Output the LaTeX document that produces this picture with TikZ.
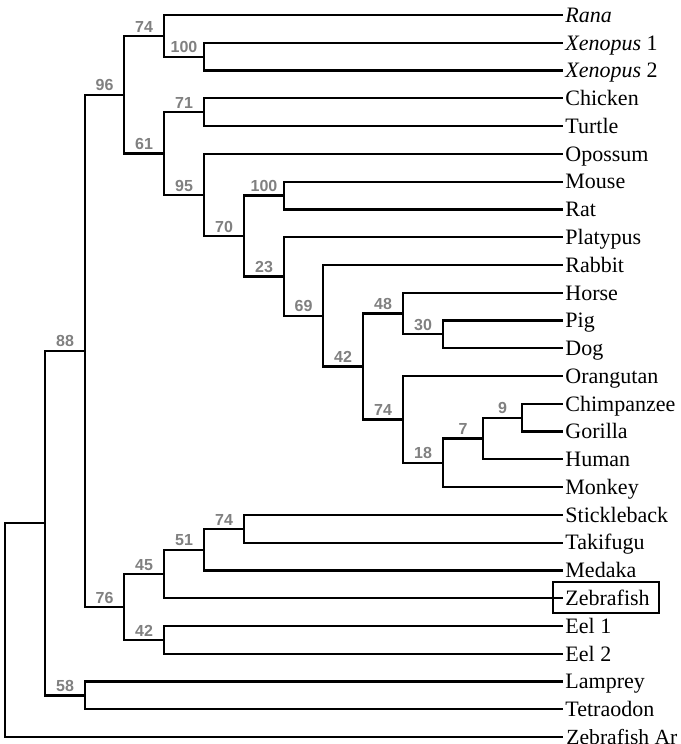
\documentclass[tikz,border=0pt]{standalone}
\usepackage{fontspec}
\setmainfont{Liberation Serif}
\newfontfamily\bsfont{Liberation Sans}
\usetikzlibrary{calc}
\tikzset{
  br/.style={line width=1.1pt},                              % tree branch
  leaf/.style={anchor=west,inner sep=1pt,text height=7.3pt,text depth=0pt,font=\fontsize{11}{13}\selectfont},
  bs/.style={pos=0.75,above,inner sep=1.3pt,text=gray,font=\bsfont\bfseries\fontsize{8}{9}\selectfont}, % bootstrap value
  hl/.style={draw=black,line width=1.1pt},
}
\begin{document}
\begin{tikzpicture}[x=0.5pt,y=-13.885pt]
  \useasboundingbox (0,-0.54) rectangle (680,26.25);
  % taxa
  \foreach \n/\t [count=\i from 0] in {rana/\textit{Rana},xenA/\textit{Xenopus} 1,xenB/\textit{Xenopus} 2,
    chicken/Chicken,turtle/Turtle,opossum/Opossum,mouse/Mouse,rat/Rat,platypus/Platypus,rabbit/Rabbit,
    horse/Horse,pig/Pig,dog/Dog,orang/Orangutan,chimp/Chimpanzee,gorilla/Gorilla,human/Human,monkey/Monkey,
    stickle/Stickleback,fugu/Takifugu,medaka/Medaka,zf/Zebrafish,eelA/Eel 1,eelB/Eel 2,
    lamprey/Lamprey,tetra/Tetraodon}
    \node[leaf] (\n) at (563,\i) {\t};
  \node[leaf,inner xsep=0pt,font=\fontsize{10.8}{13}\selectfont] (zfar) at (566,26) {Zebrafish Ar};
  \draw[hl] (553,20.42) rectangle (659,21.53);

  % internal nodes
  \coordinate (root) at (5,22.148);
  \coordinate (n1) at (45,18.296);
  \coordinate (n88) at (85,12.091);   \coordinate (n58) at (85,24.5);
  \coordinate (n96) at (124,2.870);   \coordinate (n76) at (124,21.313);
  \coordinate (n74a) at (164,0.75);   \coordinate (n61) at (164,4.989);
  \coordinate (n45) at (164,20.125);  \coordinate (n42b) at (164,22.5);
  \coordinate (n100a) at (204,1.5);   \coordinate (n71) at (204,3.5);
  \coordinate (n95) at (204,6.479);   \coordinate (n51) at (204,19.25);
  \coordinate (n70) at (244,7.957);   \coordinate (n74c) at (244,18.5);
  \coordinate (n100b) at (284,6.5);   \coordinate (n23) at (284,9.414);
  \coordinate (n69) at (323,10.828);
  \coordinate (n42) at (363,12.656);
  \coordinate (n48) at (403,10.75);   \coordinate (n74b) at (403,14.563);
  \coordinate (n30) at (443,11.5);    \coordinate (n18) at (443,16.125);
  \coordinate (n7) at (483,15.25);
  \coordinate (n9) at (522,14.5);

  % branches
  \draw[br] (root) |- (n1);  \draw[br] (root) |- ([xshift=-1.5pt]zfar.west);
  \draw[br] (n1) |- node[bs]{88} (n88);  \draw[br] (n1) |- node[bs]{58} (n58);
  \draw[br] (n58) |- (lamprey.west);  \draw[br] (n58) |- (tetra.west);
  \draw[br] (n88) |- node[bs]{96} (n96);  \draw[br] (n88) |- node[bs]{76} (n76);
  \draw[br] (n96) |- node[bs]{74} (n74a);  \draw[br] (n96) |- node[bs]{61} (n61);
  \draw[br] (n74a) |- (rana.west);  \draw[br] (n74a) |- node[bs]{100} (n100a);
  \draw[br] (n100a) |- (xenA.west);  \draw[br] (n100a) |- (xenB.west);
  \draw[br] (n61) |- node[bs]{71} (n71);  \draw[br] (n61) |- node[bs]{95} (n95);
  \draw[br] (n71) |- (chicken.west);  \draw[br] (n71) |- (turtle.west);
  \draw[br] (n95) |- (opossum.west);  \draw[br] (n95) |- node[bs]{70} (n70);
  \draw[br] (n70) |- node[bs]{100} (n100b);  \draw[br] (n70) |- node[bs]{23} (n23);
  \draw[br] (n100b) |- (mouse.west);  \draw[br] (n100b) |- (rat.west);
  \draw[br] (n23) |- (platypus.west);  \draw[br] (n23) |- node[bs]{69} (n69);
  \draw[br] (n69) |- (rabbit.west);  \draw[br] (n69) |- node[bs]{42} (n42);
  \draw[br] (n42) |- node[bs]{48} (n48);  \draw[br] (n42) |- node[bs]{74} (n74b);
  \draw[br] (n48) |- (horse.west);  \draw[br] (n48) |- node[bs]{30} (n30);
  \draw[br] (n30) |- (pig.west);  \draw[br] (n30) |- (dog.west);
  \draw[br] (n74b) |- (orang.west);  \draw[br] (n74b) |- node[bs]{18} (n18);
  \draw[br] (n18) |- node[bs]{7} (n7);  \draw[br] (n18) |- (monkey.west);
  \draw[br] (n7) |- node[bs]{9} (n9);  \draw[br] (n7) |- (human.west);
  \draw[br] (n9) |- (chimp.west);  \draw[br] (n9) |- (gorilla.west);
  \draw[br] (n76) |- node[bs]{45} (n45);  \draw[br] (n76) |- node[bs]{42} (n42b);
  \draw[br] (n45) |- node[bs]{51} (n51);  \draw[br] (n45) |- (zf.west);
  \draw[br] (n51) |- node[bs]{74} (n74c);  \draw[br] (n51) |- (medaka.west);
  \draw[br] (n74c) |- (stickle.west);  \draw[br] (n74c) |- (fugu.west);
  \draw[br] (n42b) |- (eelA.west);  \draw[br] (n42b) |- (eelB.west);
\end{tikzpicture}
\end{document}
